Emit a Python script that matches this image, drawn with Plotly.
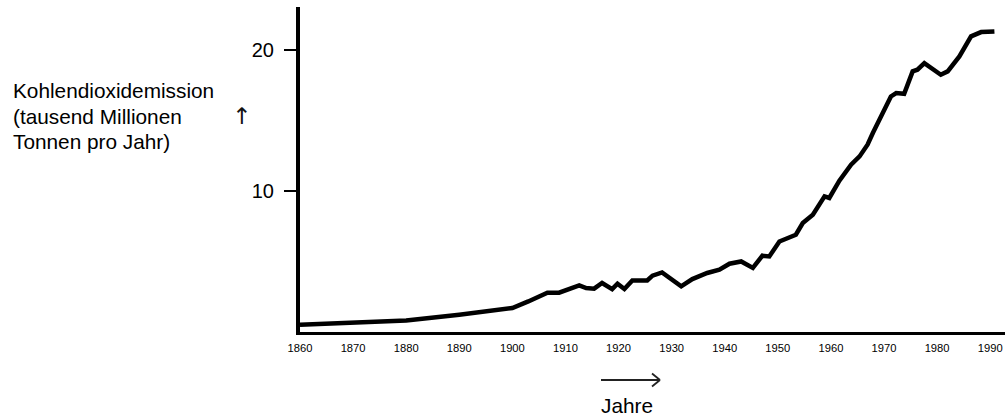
import plotly.graph_objects as go

# Data (CO2 emission, thousand million tonnes per year)
years = [1860, 1870, 1880, 1890, 1895, 1900, 1903, 1906.6, 1908.8, 1912.6, 1913.9,
         1915.4, 1916.9, 1918.8, 1919.8, 1921.1, 1922.6, 1925.4, 1926.4, 1928.2,
         1931.8, 1933.9, 1936.7, 1939.0, 1940.9, 1943.1, 1945.3, 1947.1, 1948.4,
         1950.3, 1953.4, 1954.7, 1956.6, 1958.8, 1959.7, 1961.6, 1963.8, 1965.4,
         1966.9, 1967.9, 1971.3, 1972.3, 1973.8, 1975.4, 1976.3, 1977.6, 1980.7,
         1982.0, 1984.2, 1986.4, 1988.3, 1990.8]
emission = [0.52, 0.68, 0.82, 1.23, 1.44, 1.70, 2.17, 2.79, 2.79, 3.31, 3.12,
            3.08, 3.48, 3.05, 3.43, 3.05, 3.66, 3.66, 4.00, 4.23,
            3.24, 3.76, 4.19, 4.42, 4.85, 5.01, 4.55, 5.42, 5.37,
            6.43, 6.91, 7.74, 8.33, 9.63, 9.52, 10.75, 11.88, 12.47,
            13.30, 14.13, 16.73, 16.97, 16.92, 18.51, 18.63, 19.10, 18.27,
            18.51, 19.57, 21.00, 21.30, 21.35]

x_ticks = [1860, 1870, 1880, 1890, 1900, 1910, 1920, 1930, 1940, 1950, 1960, 1970, 1980, 1990]
y_ticks = [10, 20]

y_title = ["Kohlendioxidemission", "(tausend Millionen", "Tonnen pro Jahr)"]
x_title = "Jahre"

FONT = "Liberation Sans, Arial, Helvetica, sans-serif"

W, H = 1006, 417
L, R, T, B = 300, 1, 7, 85
PW, PH = W - L - R, H - T - B


def px(x):
    return (x - L) / PW


def py(y):
    return (H - B - y) / PH


fig = go.Figure()
fig.add_trace(go.Scatter(x=years, y=emission, mode="lines",
                         line=dict(color="black", width=4.5),
                         hoverinfo="skip", showlegend=False))

annotations = []
for txt, yy in zip(y_title, [91, 116, 141]):
    annotations.append(dict(text=txt, xref="paper", yref="paper", x=px(11), y=py(yy),
                            xanchor="left", yanchor="middle", showarrow=False,
                            font=dict(family=FONT, size=20.8, color="black")))
annotations.append(dict(text="↑", xref="paper", yref="paper", x=px(241), y=py(116),
                        xanchor="center", yanchor="middle", showarrow=False,
                        font=dict(family="DejaVu Sans", size=23, color="#111")))
annotations.append(dict(text=x_title, xref="paper", yref="paper", x=px(627), y=py(405),
                        xanchor="center", yanchor="middle", showarrow=False,
                        font=dict(family=FONT, size=20.8, color="black")))

shapes = [
    dict(type="line", xref="paper", yref="paper", x0=px(601), y0=py(380), x1=px(660), y1=py(380),
         line=dict(color="#222", width=1.8)),
    dict(type="line", xref="paper", yref="paper", x0=px(652), y0=py(373.5), x1=px(660), y1=py(380),
         line=dict(color="#222", width=1.8)),
    dict(type="line", xref="paper", yref="paper", x0=px(652), y0=py(386.5), x1=px(660), y1=py(380),
         line=dict(color="#222", width=1.8)),
]

fig.update_layout(
    width=W, height=H,
    margin=dict(l=L, r=R, t=T, b=B, pad=0),
    paper_bgcolor="white", plot_bgcolor="white",
    annotations=annotations, shapes=shapes,
    xaxis=dict(range=[1860, 1860 + PW / 5.309], tickmode="array", tickvals=x_ticks,
               ticktext=[str(t) for t in x_ticks], showgrid=False, zeroline=False,
               showline=True, linecolor="black", linewidth=3, ticks="",
               tickfont=dict(family=FONT, size=11.2, color="black"), ticklabelstandoff=4),
    yaxis=dict(range=[0, PH / 14.08], tickmode="array", tickvals=y_ticks,
               ticktext=[str(t) for t in y_ticks], showgrid=False, zeroline=False,
               showline=True, linecolor="black", linewidth=4, ticks="outside",
               ticklen=12, tickwidth=2, tickcolor="black",
               tickfont=dict(family=FONT, size=20, color="black"), ticklabelstandoff=6),
)

fig.write_html("out.html", config={"displayModeBar": False},
               post_script="document.body.style.margin='0';document.body.style.overflow='hidden';")
